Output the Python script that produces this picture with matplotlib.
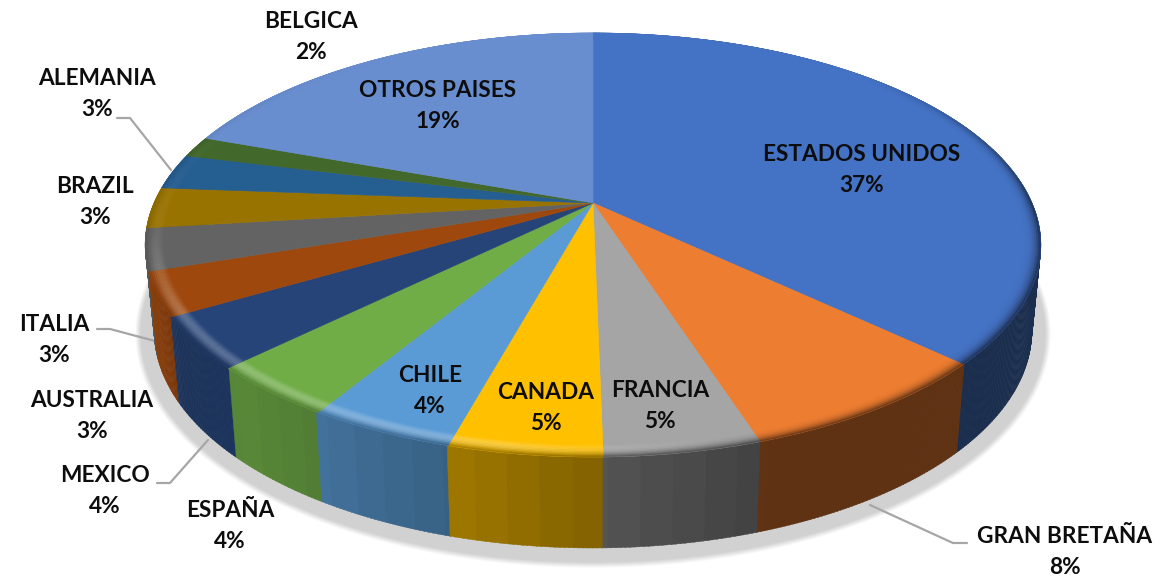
import numpy as np
import matplotlib
matplotlib.use('Agg')
import matplotlib.pyplot as plt
from matplotlib.collections import PolyCollection
from matplotlib.colors import to_rgb

# data, clockwise from 12 o'clock
paises = ["ESTADOS UNIDOS", "GRAN BRETAÑA", "FRANCIA", "CANADA", "CHILE", "ESPAÑA", "MEXICO",
          "AUSTRALIA", "ITALIA", "BRAZIL", "ALEMANIA", "BELGICA", "OTROS PAISES"]
valores = [37.0, 8.0, 4.7, 4.6, 4.4, 4.0, 3.9, 3.3, 3.2, 3.1, 2.7, 1.6, 19.5]
etiquetas = ["37%", "8%", "5%", "5%", "4%", "4%", "4%", "3%", "3%", "3%", "3%", "2%", "19%"]
colores = ["#4472C4", "#ED7D31", "#A5A5A5", "#FFC000", "#5B9BD5", "#70AD47", "#264478",
           "#9E480E", "#636363", "#997300", "#255E91", "#43682B", "#698ED0"]

# label centres in pixels
pos_x = [862, 1065, 660, 546, 430, 230, 105, 92, 54, 95, 97, 311, 438]
pos_y = [170, 552, 406, 408, 391, 526, 491, 416, 340, 202, 94, 37, 106]

# leader lines in pixels
guias = [([870, 953, 967], [505, 543, 543]),
         ([97, 110, 155], [329, 329, 341]),
         ([157, 170, 208], [483, 483, 440]),
         ([117, 130, 171], [118, 118, 170])]

# projection of the tilted disc
CX, CY = 593, 203
A, B, K = 439, 203.7, 0.198


def proyecta(theta, r=1.0):
    u = r * np.sin(np.radians(theta))
    v = r * np.cos(np.radians(theta))
    w = 1 + K * v
    return CX + A * u / w, CY - B * v / w


def base(theta):
    x, y = proyecta(theta)
    prof = 84 + 7 * (-np.cos(np.radians(theta)))
    return CX + (x - CX) * 0.98, y + prof


def mezcla(a, b, t):
    return tuple((1 - t) * np.array(a) + t * np.array(b))


def luz_lado(theta):
    # side brightness, lit from the left
    t = np.floor(theta / 3.5) * 3.5
    return np.interp(t, [90, 160, 172, 190, 205, 220, 235, 248, 280],
                     [0.40, 0.40, 0.47, 0.60, 0.70, 0.78, 0.75, 0.87, 0.9])


fig, ax = plt.subplots(figsize=(11.68, 5.78), dpi=100)
ax.set_position([0, 0, 1, 1])
ax.set_xlim(0, 1168)
ax.set_ylim(578, 0)
ax.axis('off')

bordes = np.cumsum([0] + valores) / np.sum(valores) * 360

# soft shadow under the pie
tt = np.linspace(0, 360, 361)
for i, d in enumerate(np.linspace(9, 0, 10)):
    xs, ys = proyecta(tt)
    sx = CX + (xs - CX) * 1.01 + np.sin(np.radians(tt)) * d * 0.6
    sy = CY + 85 + (ys - CY) * 1.08 - np.cos(np.radians(tt)) * d * 0.6
    g = 1 - (1 - 0.82) * (i + 1) / 10
    ax.fill(sx, sy, color=(g, g, g), lw=0, zorder=1)

for gx, gy in guias:
    ax.plot(gx, gy, color="#A6A6A6", lw=1.6, zorder=2, solid_capstyle='round')

# sides, back to front
cuads, cols = [], []
pasos = np.arange(0, 360, 0.5)
pasos = sorted(pasos, key=lambda a: np.cos(np.radians(a)), reverse=True)
for a in pasos:
    idx = min(np.searchsorted(bordes, a + 0.25) - 1, len(valores) - 1)
    x0, y0 = proyecta(a)
    x1, y1 = proyecta(a + 0.6)
    x2, y2 = base(a + 0.6)
    x3, y3 = base(a)
    c = to_rgb(colores[idx])
    f = luz_lado(a)
    cuads.append([(x0, y0), (x1, y1), (x2, y2), (x3, y3)])
    cols.append(tuple(np.array(c) * f))
ax.add_collection(PolyCollection(cuads, facecolors=cols, edgecolors=cols, linewidths=0.3, zorder=3))

# top surface
for i in range(len(valores)):
    th = np.linspace(bordes[i], bordes[i + 1], max(int(valores[i] * 6), 4))
    x, y = proyecta(th)
    ax.fill(np.r_[CX, x], np.r_[CY, y], color=colores[i], lw=0.4, zorder=4)

# rounded rim on top of each slice
RIM = 0.04
radios = np.linspace(1 - RIM, 1, 10)
cuads, cols = [], []
for i in range(len(valores)):
    c = to_rgb(colores[i])
    for a in np.arange(bordes[i], bordes[i + 1], 1.0):
        b = min(a + 1.0, bordes[i + 1])
        m = (a + b) / 2
        s = tuple(np.array(c) * luz_lado(m))
        oscuro = np.interp(m, [45, 90, 270, 330], [0, 1, 1, 0])
        claro = np.interp(m, [165, 190, 240, 262, 300], [0, 1, 1, 0.25, 0])
        for r0, r1 in zip(radios[:-1], radios[1:]):
            t = ((r0 + r1) / 2 - (1 - RIM)) / RIM
            col = mezcla(c, (1, 1, 1), claro * 0.28 * np.sin(np.pi * t))
            col = mezcla(col, s, oscuro * t ** 3)
            x0, y0 = proyecta(a, r0)
            x1, y1 = proyecta(b, r0)
            x2, y2 = proyecta(b, r1)
            x3, y3 = proyecta(a, r1)
            cuads.append([(x0, y0), (x1, y1), (x2, y2), (x3, y3)])
            cols.append(col)
ax.add_collection(PolyCollection(cuads, facecolors=cols, edgecolors=cols, linewidths=0.3, zorder=5))

for n, e, x, y in zip(paises, etiquetas, pos_x, pos_y):
    ax.text(x, y, n + "\n" + e, ha='center', va='center', fontsize=16.3, fontweight='bold',
            family='Lato', color="#0D0D0D", linespacing=1.6, zorder=6)

plt.savefig('out.png', dpi=100)
